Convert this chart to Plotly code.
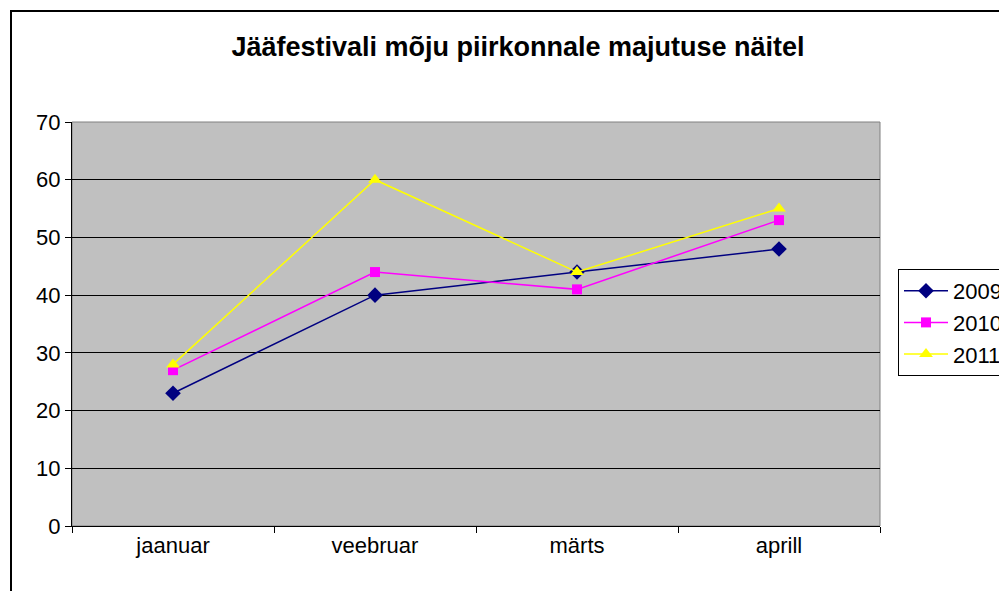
import plotly.graph_objects as go

months = ["jaanuar", "veebruar", "märts", "aprill"]
s2009 = [23, 40, 44, 48]
s2010 = [27, 44, 41, 53]
s2011 = [28, 60, 44, 55]
series_names = ["2009", "2010", "2011"]
y_ticks = [0, 10, 20, 30, 40, 50, 60, 70]

OFF = 8
W, H = 1007, 591
L, R, T, B = 72 - OFF, 880 - OFF, 122 - OFF, 526 - OFF
PW, PH = R - L, B - T

fig = go.Figure()
styles = [
    ("#000080", "diamond", 12),
    ("#FF00FF", "square", 10),
    ("#FFFF00", "triangle-up", 12),
]
for name, vals, (col, sym, sz) in zip(series_names, [s2009, s2010, s2011], styles):
    fig.add_trace(go.Scatter(
        x=months, y=vals, name=name, mode="lines+markers",
        line=dict(color=col, width=1.5),
        marker=dict(symbol=sym, size=sz, color=col, line=dict(width=0)),
    ))

font = "Liberation Sans, Arial, sans-serif"
fig.update_layout(
    width=W, height=H,
    margin=dict(l=L, r=W - R, t=T, b=H - B, pad=0, autoexpand=False),
    paper_bgcolor="white",
    plot_bgcolor="#C0C0C0",
    font=dict(family=font, size=22, color="black"),
    title=dict(
        text="<b>Jääfestivali mõju piirkonnale majutuse näitel</b>",
        font=dict(family=font, size=27, color="black"),
        x=(518 - OFF - L) / PW, xref="paper", xanchor="center",
        y=1 - (47 - OFF) / H, yref="container", yanchor="middle",
    ),
    legend=dict(
        x=(898 - OFF - L) / PW, y=(B - (269 - OFF)) / PH,
        xanchor="left", yanchor="top",
        bordercolor="black", borderwidth=1, bgcolor="white",
        font=dict(family=font, size=22, color="black"),
        itemwidth=44,
    ),
    showlegend=True,
)
fig.update_xaxes(
    type="category", tickson="boundaries", ticks="outside", ticklen=6,
    range=[-0.5, len(months) - 0.5],
    tickcolor="black", showline=True, linecolor="black", linewidth=1,
    showgrid=False, mirror=False, tickfont=dict(size=22),
)
fig.update_yaxes(
    range=[0, 70], tickvals=y_ticks, ticks="outside", ticklen=6,
    tickcolor="black", showline=True, linecolor="black", linewidth=1,
    showgrid=True, gridcolor="black", gridwidth=1, zeroline=False,
    tickfont=dict(size=22),
)
fig.add_shape(type="rect", xref="paper", yref="paper", x0=0, x1=1, y0=0, y1=1,
              line=dict(color="#808080", width=1), layer="below")
fig.add_shape(type="rect", xref="paper", yref="paper",
              x0=(11 - OFF - L) / PW, x1=(1040 - L) / PW,
              y0=(B - 640) / PH, y1=(B - (11 - OFF)) / PH,
              line=dict(color="black", width=2))

fig.write_html("out.html")
